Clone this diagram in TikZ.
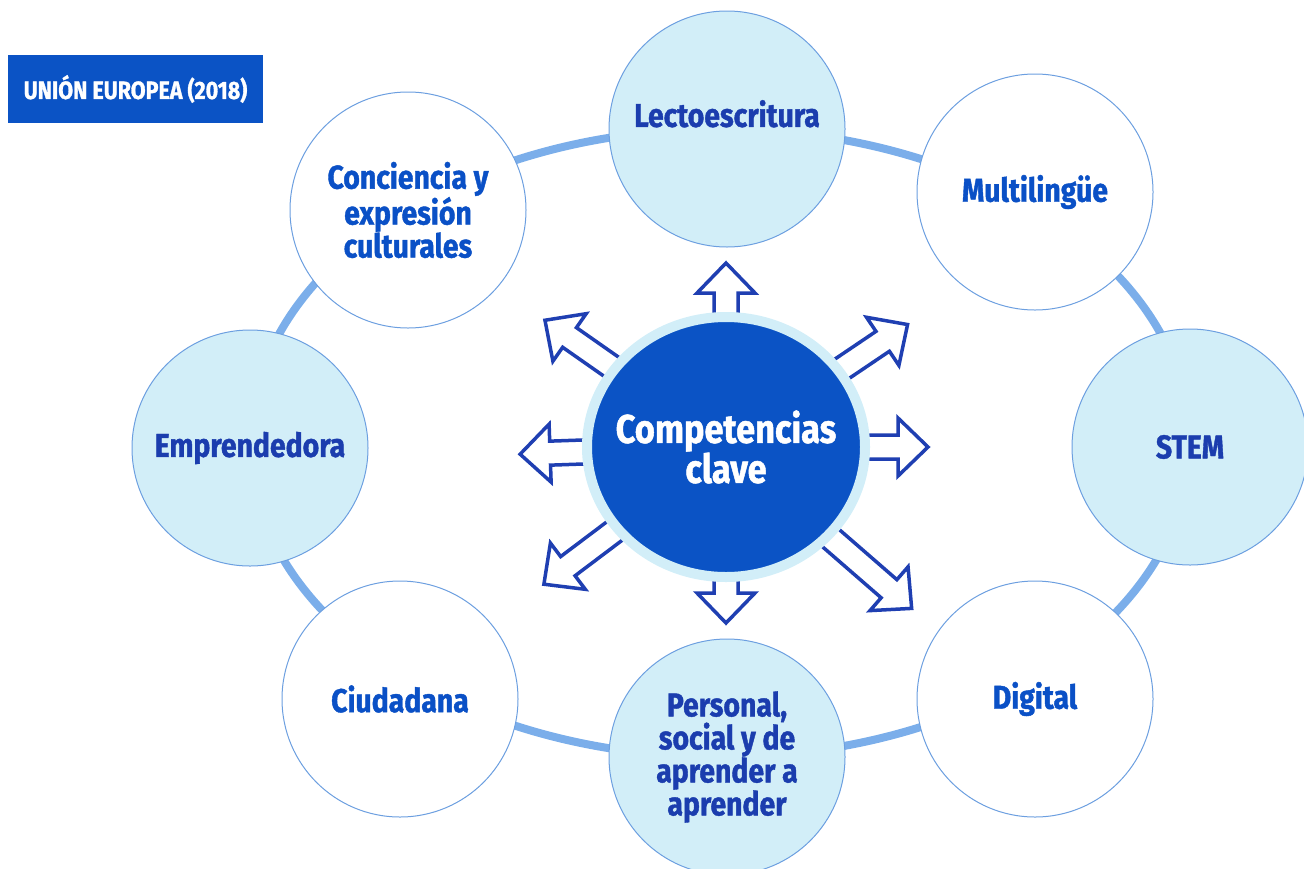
\documentclass[tikz,border=0pt]{standalone}
\usepackage{fontspec}
\setmainfont{Fira Sans}[FakeStretch=0.86, BoldFeatures={FakeBold=1.2}]
\usepackage{tikz}
\usetikzlibrary{shapes.geometric}
\definecolor{EUBlue}{HTML}{0B53C5}
\definecolor{EULight}{HTML}{D2EEF8}
\definecolor{EURing}{HTML}{7BAEEA}
\definecolor{EUEdge}{HTML}{6C9FE0}
\definecolor{EUText}{HTML}{1B3DAE}
\definecolor{EUTextBright}{HTML}{0A50C6}
\definecolor{EUArrow}{HTML}{1F3FB2}

\begin{document}
\begin{tikzpicture}[
x=1pt, y=1pt,
font=\bfseries\fontsize{33}{33}\selectfont,
compbox/.style={
circle,
draw=EUEdge,
line width=1pt,
fill=white,
minimum size=236pt,
inner sep=0pt,
align=center,
text=EUTextBright
},
litebox/.style={
compbox,
fill=EULight,
text=EUText
},
corebox/.style={
ellipse,
draw=EULight,
line width=10pt,
fill=EUBlue,
minimum width=278pt,
minimum height=260pt,
inner sep=0pt
},
coretext/.style={
align=center,
text=white,
font=\bfseries\fontsize{40}{40}\selectfont
},
titlebox/.style={
rectangle,
fill=EUBlue,
minimum width=255pt,
minimum height=68pt,
text=white,
font=\bfseries\fontsize{25}{28}\selectfont
},
hollowarrow/.style={
draw=EUArrow,
line width=3.5pt,
fill=white,
line join=miter
}
]
\useasboundingbox (0,0) rectangle (1304,-868);

% Ring behind the eight competences
\draw[EURing, line width=8pt] (720,-443) ellipse [x radius=470pt, y radius=314pt];

% Competences round the ring
\node[litebox, text depth=31pt] (lecto) at (727,-129) {Lectoescritura};
\node[compbox] (multi) at (1035,-192) {Multilingüe};
\node[litebox] (stem) at (1190,-447) {STEM};
\node[compbox] (digital) at (1035,-699) {Digital};
\node[litebox] (personal) at (727,-757) {Personal,\\social y de\\aprender a\\aprender};
\node[compbox] (ciuda) at (400,-699) {Ciudadana};
\node[litebox] (empren) at (250,-448) {Emprendedora};
\node[compbox] (cultura) at (408,-210) {Conciencia y\\expresión\\culturales};

% Hollow arrows out of the centre
\foreach \ang/\len in {90/184, -90/176, 0/202, 182/206, 34/219, -41/246, 145/221, 217/228}{
\begin{scope}[shift={(726,-447)}, rotate=\ang]
\draw[hollowarrow] (110,-12) -- ({\len-30},-12) -- ({\len-30},-29) -- (\len,0)
  -- ({\len-30},29) -- ({\len-30},12) -- (110,12) -- cycle;
\end{scope}
}

\node[corebox] (core) at (726,-447) {};
\node[coretext] (corelabel) at (726,-447) {Competencias\\clave};

\node[titlebox] (title) at (135.5,-89) {UNIÓN EUROPEA (2018)};

\end{tikzpicture}
\end{document}
